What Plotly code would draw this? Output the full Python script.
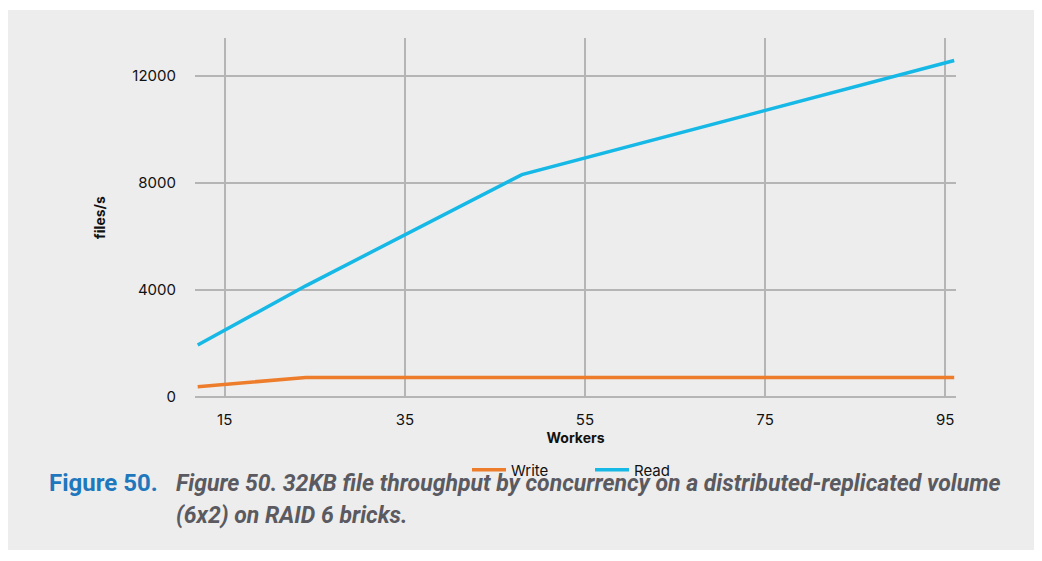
import plotly.graph_objects as go

workers = [12, 24, 48, 96]
write_vals = [385, 730, 730, 730]
read_vals = [1940, 4150, 8300, 12560]
x_ticks = [15, 35, 55, 75, 95]
y_ticks = [0, 4000, 8000, 12000]

OFF = 8  # page body margin
W, H = 1042 - 2 * OFF, 561 - 2 * OFF
L, R, T, B = 195 - OFF, 956 - OFF, 38 - OFF, 397 - OFF

def px(x):
    return (x - OFF - L) / (R - L)

def py(y):
    return (B - (y - OFF)) / (B - T)

tick_font = dict(family="Inter, Lato, sans-serif", size=15, color="#111111")
title_font = dict(family="Inter, Lato, sans-serif", size=14, color="#111111")
cap_font = "Roboto, sans-serif"

fig = go.Figure()
fig.add_trace(go.Scatter(x=workers, y=write_vals, mode="lines", name="Write",
                         line=dict(color="#ee7d2b", width=3.5)))
fig.add_trace(go.Scatter(x=workers, y=read_vals, mode="lines", name="Read",
                         line=dict(color="#16b8e6", width=3.5)))

fig.update_layout(
    width=W, height=H,
    margin=dict(l=L, r=W - R, t=T, b=H - B),
    paper_bgcolor="white",
    plot_bgcolor="rgba(0,0,0,0)",
    showlegend=True,
    legend=dict(orientation="h", x=px(467), y=py(470), xanchor="left", yanchor="middle",
                font=dict(family="Inter, Lato, sans-serif", size=15, color="#111111"),
                bgcolor="rgba(0,0,0,0)", itemwidth=34, tracegroupgap=0,
                entrywidth=74, entrywidthmode="pixels"),
    xaxis=dict(range=[11.7, 96.2], tickvals=x_ticks, ticktext=[str(v) for v in x_ticks],
               showgrid=True, gridcolor="#b5b5b5", gridwidth=1.5,
               zeroline=False, showline=False, tickfont=tick_font,
               ticklabelstandoff=12,
               title=dict(text="<b>Workers</b>", font=title_font, standoff=5)),
    yaxis=dict(range=[0, 13400], tickvals=y_ticks, ticktext=[str(v) for v in y_ticks],
               showgrid=True, gridcolor="#b5b5b5", gridwidth=1.5,
               zeroline=True, zerolinecolor="#b5b5b5", zerolinewidth=1.5,
               showline=False, tickfont=tick_font, ticklabelstandoff=18,
               title=dict(text="<b>files/s</b>", font=title_font, standoff=23)),
    shapes=[dict(type="rect", xref="paper", yref="paper",
                 x0=px(7), x1=px(1035), y0=py(550), y1=py(10),
                 fillcolor="#ededed", line=dict(width=0), layer="below")],
    annotations=[
        dict(text="<b>Figure 50.</b>", xref="paper", yref="paper",
             x=px(47), y=py(483), xanchor="left", yanchor="middle", showarrow=False,
             font=dict(family=cap_font, size=24, color="#1f77bd")),
        dict(text="<b><i>Figure 50. 32KB file throughput by concurrency on a distributed-replicated volume</i></b>",
             xref="paper", yref="paper",
             x=px(174), y=py(483), xanchor="left", yanchor="middle", showarrow=False,
             font=dict(family=cap_font, size=23, color="#5a5a60")),
        dict(text="<b><i>(6x2) on RAID 6 bricks.</i></b>",
             xref="paper", yref="paper",
             x=px(174), y=py(516), xanchor="left", yanchor="middle", showarrow=False,
             font=dict(family=cap_font, size=23, color="#5a5a60")),
    ],
)

fig.write_html("out.html")
